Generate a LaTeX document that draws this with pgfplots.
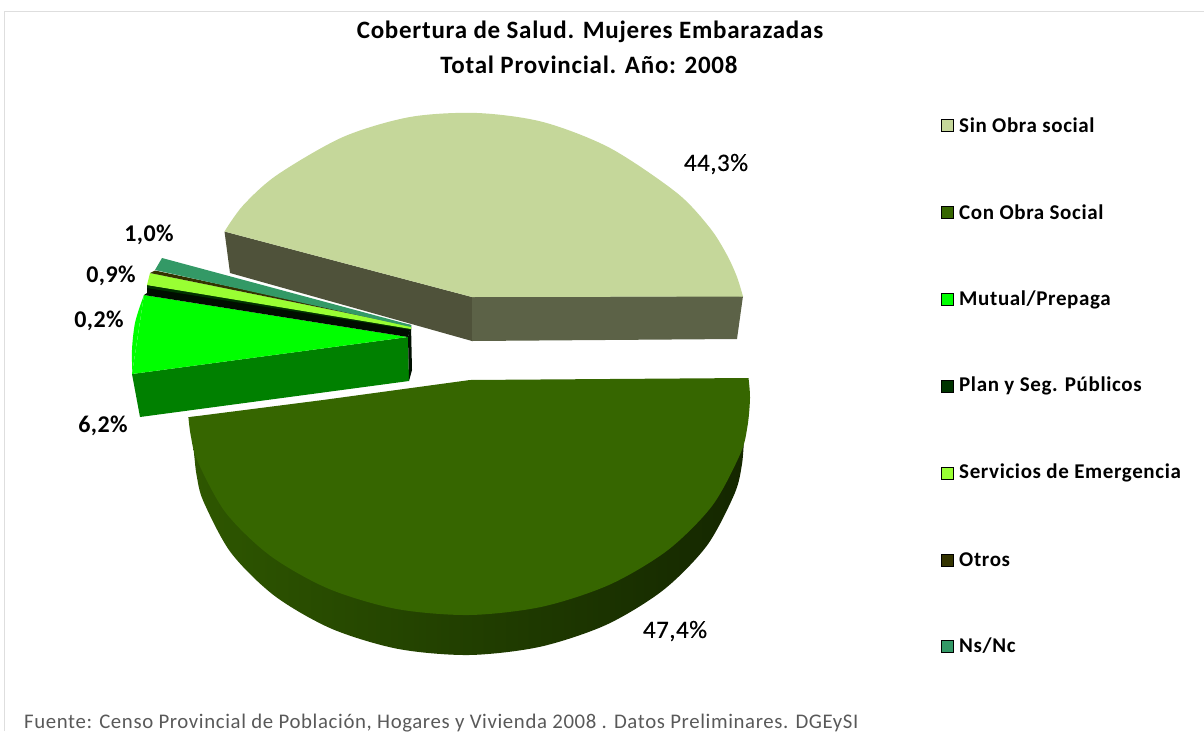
\documentclass[border=0pt]{standalone}
\usepackage{fontspec}
\setmainfont{Carlito}
\usepackage{pgfplots}
\pgfplotsset{compat=1.18}
\definecolor{sinobra}{HTML}{C5D79A}
\definecolor{sinobraL}{HTML}{4F523A}
\definecolor{sinobraR}{HTML}{5C6247}
\definecolor{conobra}{HTML}{366600}
\definecolor{mutual}{HTML}{00FF00}
\definecolor{mutualS}{HTML}{008000}
\definecolor{plan}{HTML}{003300}
\definecolor{emerg}{HTML}{99FF33}
\definecolor{otros}{HTML}{333300}
\definecolor{nsnc}{HTML}{339966}
\newcommand{\lab}[1]{\fontsize{25}{27}\selectfont\addfontfeatures{LetterSpace=2,FakeBold=0.4}#1}
\newcommand{\labb}[1]{\fontsize{24}{26}\selectfont\bfseries\addfontfeatures{LetterSpace=2}#1}
\newcommand{\legt}[1]{\fontsize{21}{23}\selectfont\bfseries\addfontfeatures{LetterSpace=3}#1}
\begin{document}
\begin{tikzpicture}
\begin{axis}[
    scale only axis,
    width=1204pt,
    height=731pt,
    xmin=0, xmax=1204,
    ymin=0, ymax=731,
    y dir=reverse,
    hide axis,
    clip=true,
]
% hide axis drops the axis box from the bounding box
\path (axis cs:0,0) rectangle (axis cs:1204,731);

% frame
\addplot[draw=black!13, line width=1.5pt] coordinates {(4.5,731) (4.5,11.5) (1204,11.5)};

% Sin Obra social
\addplot[draw=none, fill=sinobraL] coordinates {(224.5,231.5) (472,297) (472,341) (230,273)} --cycle;
\addplot[draw=none, fill=sinobraR] coordinates {(472,297) (743,296) (737,339) (472,341)} --cycle;
\addplot[draw=none, fill=sinobra, smooth] coordinates {
    (224.5,231.5) (243,205.5) (277,175) (343,137) (410,117) (477,113) (543,122)
    (610,148) (677,193) (710,228) (727,255) (737,277) (743,296.5)};
\addplot[draw=none, fill=sinobra] coordinates {(472,297) (224.5,231.5) (480,200) (743,296.5)} --cycle;

% Con Obra Social, side then top
\addplot[draw=none, smooth, left color=conobra!85!black, middle color=conobra!42!black, right color=conobra!38!black] coordinates {
    (744,438) (742,464) (734.6,493.6) (707,545.5) (663.4,590) (606.5,624.7) (540,646.8)
    (469,655) (398,648.9) (331.5,628.7) (274.5,595.8) (230.8,552.5) (203.4,501.3)
    (196.7,475.8) (194.4,457) (193,443)};
\addplot[draw=none, fill=conobra, smooth] coordinates {
    (748.5,378) (750,398) (747.5,426.1) (740.4,453.6) (712.4,505.5) (667.7,550.2)
    (609.5,584.7) (541.8,606.8) (469,615) (396.2,608.9) (328.5,588.7) (270.3,555.8)
    (225.6,512.5) (197.6,461.3) (190.8,435.8) (188.4,417.2)};
\addplot[draw=none, fill=conobra] coordinates {(188.4,417.2) (323,400) (470,380) (748.5,378) (470,500)} --cycle;

% Mutual/Prepaga
\addplot[draw=none, fill=mutualS] coordinates {(132,374) (408,337) (409,381) (140,417)} --cycle;
\addplot[draw=none, fill=black!70!plan] coordinates {(408,337) (411,325) (412,370) (409,381)} --cycle;
\addplot[draw=none, fill=mutual, smooth] coordinates {(144,295) (139,309) (135,323) (133,337) (132,350) (132,362) (132,374)};
\addplot[draw=none, fill=mutual] coordinates {(408,337) (144,295) (138,335) (132,374)} --cycle;

% Plan y Seg. Publicos, Otros
\addplot[draw=none, fill=black!75!plan] coordinates {(147,285) (147,293) (144,295) (408,337) (411,327)} --cycle;
\addplot[draw=none, fill=plan] coordinates {(147,285) (147,288) (411,330) (411,327)} --cycle;

% Servicios de Emergencia
\addplot[draw=none, fill=emerg] coordinates {(150,273) (147,285) (411,329) (411,326)} --cycle;
\addplot[draw=none, fill=otros] coordinates {(155,270.5) (150,273) (411,326) (411,325)} --cycle;

% Ns/Nc
\addplot[draw=none, fill=nsnc] coordinates {(162,258) (155,270) (411,327) (411,325)} --cycle;

% legend squares
\addplot[only marks, mark=square*, mark size=6.2pt, mark options={draw=none, fill=sinobra}] coordinates {(947,125)};
\addplot[only marks, mark=square*, mark size=6.2pt, mark options={draw=none, fill=conobra}] coordinates {(947,212)};
\addplot[only marks, mark=square*, mark size=6.2pt, mark options={draw=none, fill=mutual}] coordinates {(947,299)};
\addplot[only marks, mark=square*, mark size=6.2pt, mark options={draw=none, fill=plan}] coordinates {(947,386)};
\addplot[only marks, mark=square*, mark size=6.2pt, mark options={draw=none, fill=emerg}] coordinates {(947,473)};
\addplot[only marks, mark=square*, mark size=6.2pt, mark options={draw=none, fill=otros}] coordinates {(947,560)};
\addplot[only marks, mark=square*, mark size=6.2pt, mark options={draw=none, fill=nsnc}] coordinates {(947,646)};

\node[anchor=west, inner sep=0pt] at (axis cs:959,125) {\legt{Sin Obra social}};
\node[anchor=west, inner sep=0pt] at (axis cs:959,212) {\legt{Con Obra Social}};
\node[anchor=west, inner sep=0pt] at (axis cs:959,299.5) {\legt{Mutual/Prepaga}};
\node[anchor=west, inner sep=0pt] at (axis cs:959,386) {\legt{Plan y Seg. Públicos}};
\node[anchor=west, inner sep=0pt] at (axis cs:959,473) {\legt{Servicios de Emergencia}};
\node[anchor=west, inner sep=0pt] at (axis cs:959,560) {\legt{Otros}};
\node[anchor=west, inner sep=0pt] at (axis cs:959,646) {\legt{Ns/Nc}};

% title
\node[inner sep=0pt] at (axis cs:590,32) {\fontsize{25}{27}\selectfont\bfseries\addfontfeatures{LetterSpace=3}Cobertura de Salud. Mujeres Embarazadas};
\node[inner sep=0pt] at (axis cs:589,65) {\fontsize{25}{27}\selectfont\bfseries\addfontfeatures{LetterSpace=3}Total Provincial. Año: 2008};

% value labels
\node[inner sep=0pt] at (axis cs:716,164) {\lab{44,3\%}};
\node[inner sep=0pt] at (axis cs:675,631) {\lab{47,4\%}};
\node[inner sep=0pt] at (axis cs:103,426) {\labb{6,2\%}};
\node[inner sep=0pt] at (axis cs:99,321) {\labb{0,2\%}};
\node[inner sep=0pt] at (axis cs:111,276) {\labb{0,9\%}};
\node[inner sep=0pt] at (axis cs:149,235) {\labb{1,0\%}};

% source
\node[overlay, anchor=base west, inner sep=0pt, text=black!65] at (axis cs:24,728) {\fontsize{20.8}{22}\selectfont\addfontfeatures{LetterSpace=3}Fuente: Censo Provincial de Población, Hogares y Vivienda 2008 . Datos Preliminares. DGEySI};
\end{axis}
\end{tikzpicture}
\end{document}
